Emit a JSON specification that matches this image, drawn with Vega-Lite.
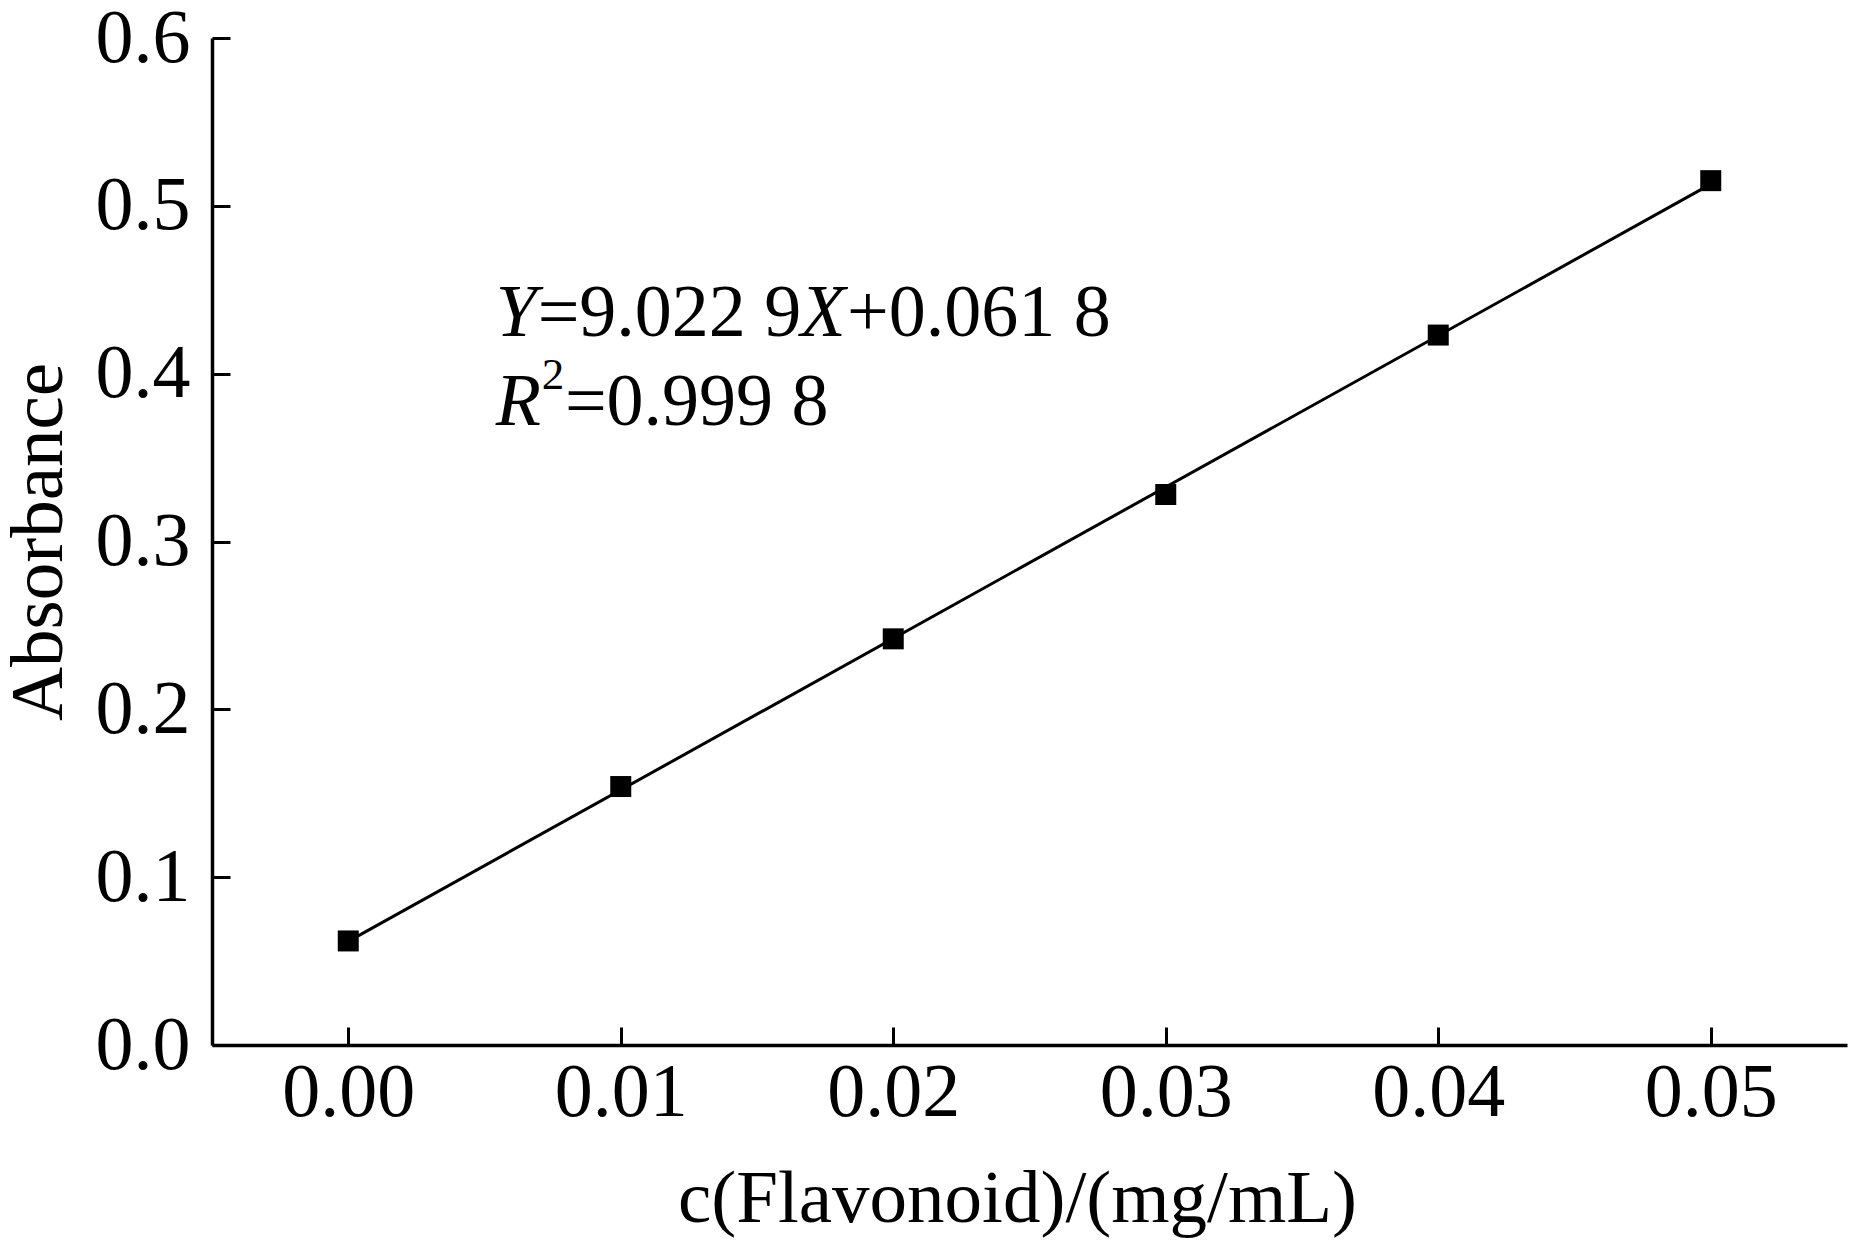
{
  "$schema": "https://vega.github.io/schema/vega-lite/v6.json",
  "width": 1635,
  "height": 1007,
  "autosize": "none",
  "padding": {"left": 212, "top": 38, "right": 3, "bottom": 195},
  "background": "white",
  "config": {
    "view": {"stroke": null},
    "font": "Liberation Serif",
    "axis": {
      "domainColor": "black",
      "domainWidth": 3.5,
      "tickColor": "black",
      "tickWidth": 3,
      "tickSize": -18,
      "grid": false,
      "labelFont": "Liberation Serif",
      "labelFontSize": 76,
      "labelColor": "black",
      "titleFont": "Liberation Serif",
      "titleFontSize": 75,
      "titleFontWeight": "normal",
      "titleColor": "black"
    }
  },
  "datasets": {
    "points": [
      {"conc": 0.00, "absorbance": 0.062},
      {"conc": 0.01, "absorbance": 0.154},
      {"conc": 0.02, "absorbance": 0.242},
      {"conc": 0.03, "absorbance": 0.328},
      {"conc": 0.04, "absorbance": 0.423},
      {"conc": 0.05, "absorbance": 0.515}
    ],
    "italic": [
      {"conc": 0.00541, "absorbance": 0.4223, "label": "Y"},
      {"conc": 0.01660, "absorbance": 0.4223, "label": "X"},
      {"conc": 0.00541, "absorbance": 0.3696, "label": "R"}
    ],
    "plain": [
      {"conc": 0.00695, "absorbance": 0.4223, "label": "=9.022 9"},
      {"conc": 0.01830, "absorbance": 0.4223, "label": "+0.061 8"},
      {"conc": 0.00795, "absorbance": 0.3696, "label": "=0.999 8"}
    ],
    "sup": [
      {"conc": 0.00710, "absorbance": 0.3907, "label": "2"}
    ]
  },
  "encoding": {
    "x": {
      "field": "conc",
      "type": "quantitative",
      "scale": {"domain": [-0.005, 0.055], "nice": false, "zero": false},
      "axis": {
        "title": "c(Flavonoid)/(mg/mL)",
        "values": [0, 0.01, 0.02, 0.03, 0.04, 0.05],
        "format": ".2f",
        "labelPadding": 28,
        "titlePadding": 32,
        "titleX": 805
      }
    },
    "y": {
      "field": "absorbance",
      "type": "quantitative",
      "scale": {"domain": [0, 0.6], "nice": false},
      "axis": {
        "title": "Absorbance",
        "values": [0, 0.1, 0.2, 0.3, 0.4, 0.5, 0.6],
        "format": ".1f",
        "labelPadding": 40,
        "titlePadding": 18
      }
    }
  },
  "layer": [
    {
      "data": {"name": "points"},
      "transform": [
        {"regression": "absorbance", "on": "conc", "extent": [0, 0.05]}
      ],
      "mark": {"type": "line", "color": "black", "strokeWidth": 3}
    },
    {
      "data": {"name": "points"},
      "mark": {"type": "square", "filled": true, "color": "black", "size": 441, "opacity": 1}
    },
    {
      "data": {"name": "italic"},
      "mark": {"type": "text", "align": "left", "baseline": "alphabetic", "fontSize": 74, "fontStyle": "italic", "color": "black"},
      "encoding": {"text": {"field": "label"}}
    },
    {
      "data": {"name": "plain"},
      "mark": {"type": "text", "align": "left", "baseline": "alphabetic", "fontSize": 74, "color": "black"},
      "encoding": {"text": {"field": "label"}}
    },
    {
      "data": {"name": "sup"},
      "mark": {"type": "text", "align": "left", "baseline": "alphabetic", "fontSize": 45, "color": "black"},
      "encoding": {"text": {"field": "label"}}
    }
  ]
}
